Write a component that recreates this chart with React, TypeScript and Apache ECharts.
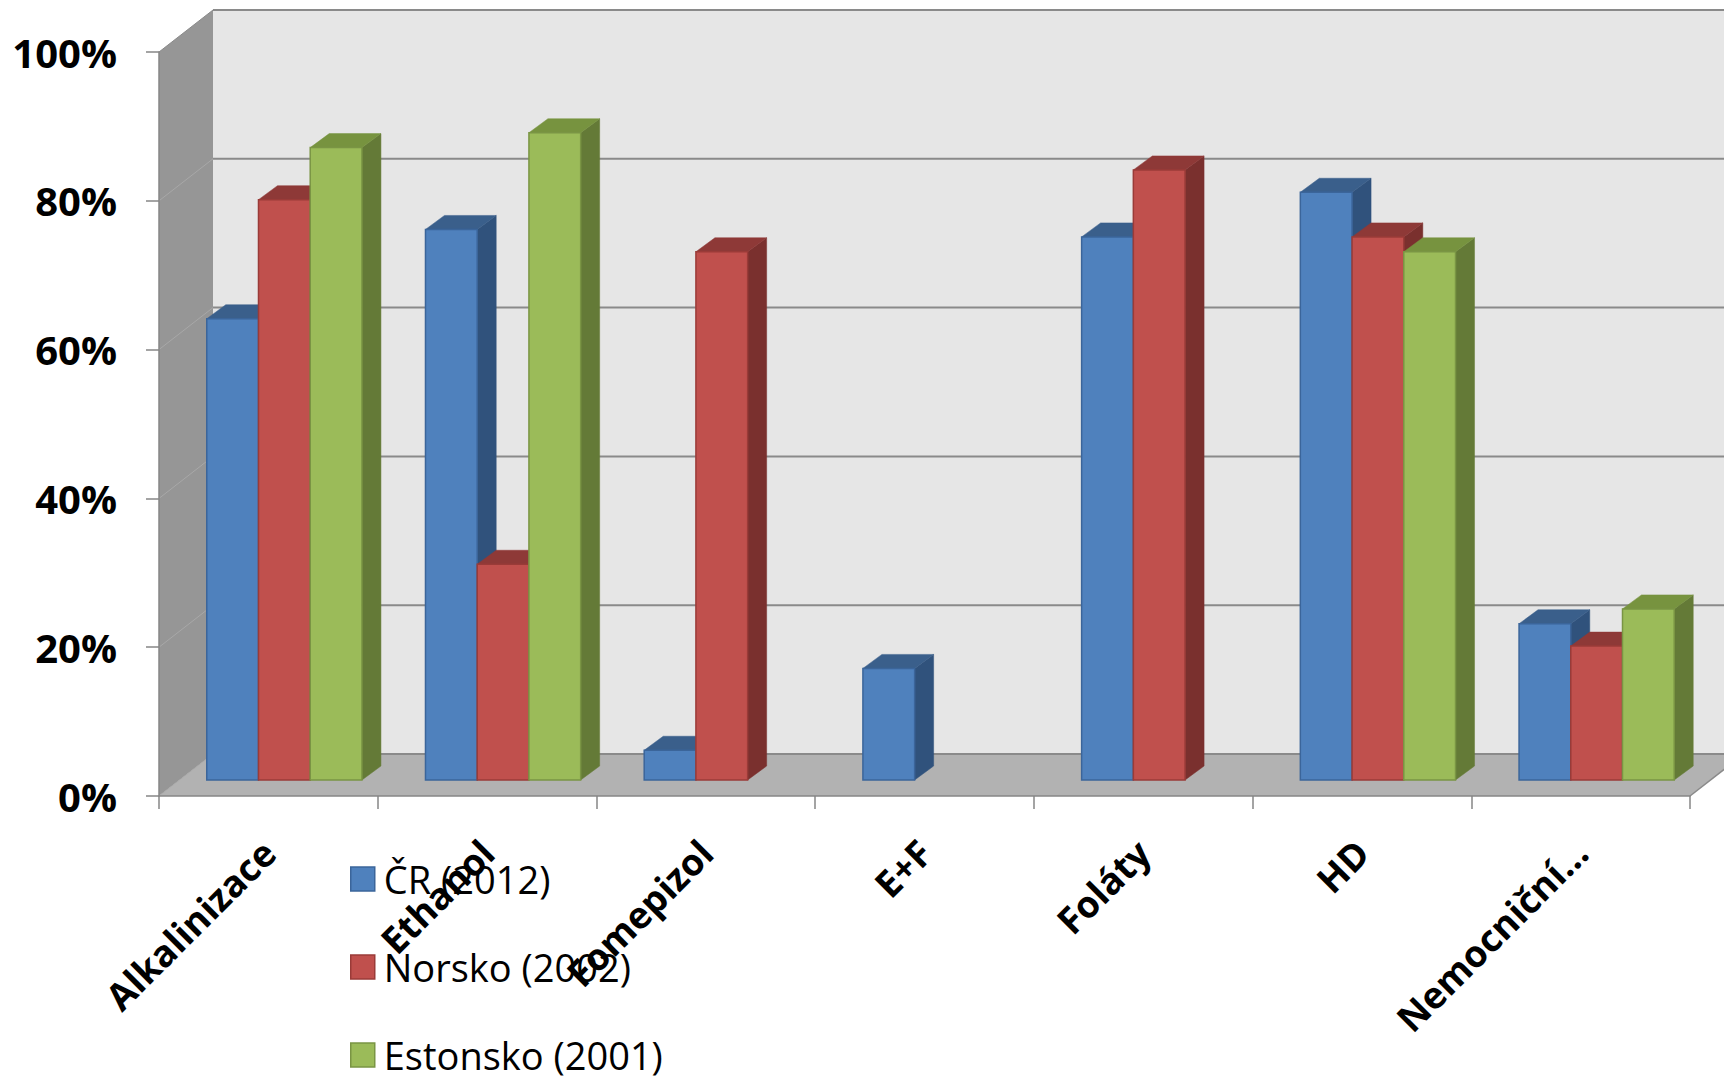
import React, { useEffect, useRef } from "react";
import * as echarts from "echarts";

// ---- data ----
const categories = ["Alkalinizace", "Ethanol", "Fomepizol", "E+F", "Foláty", "HD", "Nemocniční…"];
const seriesNames = ["ČR (2012)", "Norsko (2002)", "Estonsko (2001)"];
const crValues: (number | null)[] = [62, 74, 4, 15, 73, 79, 21];
const norskoValues: (number | null)[] = [78, 29, 71, null, 82, 73, 18];
const estonskoValues: (number | null)[] = [85, 87, null, null, null, 71, 23];
const yTicks = [0, 20, 40, 60, 80, 100];

// ---- styling ----
const palette = [
  { front: "#4f81bd", top: "#3a5f8b", side: "#30527c", border: "#3b659a" },
  { front: "#c0504d", top: "#8e3937", side: "#7a302e", border: "#9a3b38" },
  { front: "#9bbb59", top: "#77933f", side: "#647a37", border: "#7a9544" },
];
const WALL_DX = 54;
const WALL_DY = -42;
const BAR_DX0 = 16;
const BAR_DY0 = -16;
const BAR_DDX = 19;
const BAR_DDY = -14;
const BAR_FRAC = 0.2365;
const FONT = "'Open Sans', 'Noto Sans', sans-serif";

const allValues = [crValues, norskoValues, estonskoValues];

function makeBarRender(s: number) {
  return (params: any, api: any) => {
    const ci = api.value(0);
    const v = api.value(1);
    const base = api.coord([ci, 0]);
    const topPt = api.coord([ci, v]);
    const band = api.size([1, 0])[0];
    const w = band * BAR_FRAC;
    const x0 = base[0] + BAR_DX0 - 1.5 * w + s * w;
    const x1 = x0 + w;
    const yb = base[1] + BAR_DY0;
    const yt = topPt[1] + BAR_DY0;
    const c = palette[s];
    return {
      type: "group",
      children: [
        {
          type: "polygon",
          shape: { points: [[x1, yt], [x1 + BAR_DDX, yt + BAR_DDY], [x1 + BAR_DDX, yb + BAR_DDY], [x1, yb]] },
          style: { fill: c.side, stroke: c.side, lineWidth: 0.5 },
        },
        {
          type: "polygon",
          shape: { points: [[x0, yt], [x1, yt], [x1 + BAR_DDX, yt + BAR_DDY], [x0 + BAR_DDX, yt + BAR_DDY]] },
          style: { fill: c.top, stroke: c.top, lineWidth: 0.5 },
        },
        {
          type: "rect",
          shape: { x: x0, y: yt, width: w, height: yb - yt },
          style: { fill: c.front, stroke: c.border, lineWidth: 1.5 },
        },
      ],
    };
  };
}

function renderWalls(params: any, api: any) {
  const cs = params.coordSys;
  const xl = cs.x;
  const xr = cs.x + cs.width;
  const y0 = api.coord([0, 0])[1];
  const y100 = api.coord([0, 100])[1];
  const children: any[] = [
    {
      type: "rect",
      shape: { x: xl + WALL_DX, y: y100 + WALL_DY, width: cs.width + 40, height: y0 - y100 },
      style: { fill: "#e6e6e6" },
    },
    {
      type: "polygon",
      shape: { points: [[xl, y0], [xl, y100], [xl + WALL_DX, y100 + WALL_DY], [xl + WALL_DX, y0 + WALL_DY]] },
      style: { fill: "#969696" },
    },
    {
      type: "polygon",
      shape: { points: [[xl, y0], [xr, y0], [xr + WALL_DX, y0 + WALL_DY], [xl + WALL_DX, y0 + WALL_DY]] },
      style: { fill: "#b2b2b2" },
    },
  ];
  yTicks.forEach((t) => {
    const y = api.coord([0, t])[1];
    children.push({
      type: "line",
      shape: { x1: xl + WALL_DX, y1: y + WALL_DY, x2: xr + WALL_DX + 40, y2: y + WALL_DY },
      style: { stroke: "#8a8a8a", lineWidth: 2 },
    });
    children.push({
      type: "line",
      shape: { x1: xl, y1: y, x2: xl + WALL_DX, y2: y + WALL_DY },
      style: { stroke: t === 100 ? "#8a8a8a" : "#a8a8a8", lineWidth: 1 },
    });
  });
  children.push({
    type: "line",
    shape: { x1: xr, y1: y0, x2: xr + WALL_DX, y2: y0 + WALL_DY },
    style: { stroke: "#8a8a8a", lineWidth: 1.5 },
  });
  return { type: "group", children };
}

export default function App() {
  const ref = useRef<HTMLDivElement>(null);
  useEffect(() => {
    document.body.style.margin = "0";
    if (!ref.current) return;
    const chart = echarts.init(ref.current, undefined, { renderer: "svg" });
    const barSeries = seriesNames.map((name, s) => ({
      type: "custom",
      name,
      z: 2,
      renderItem: makeBarRender(s),
      itemStyle: { color: palette[s].front, borderColor: palette[s].border },
      encode: { x: 0, y: 1 },
      data: allValues[s]
        .map((v, i) => (v == null ? null : [i, v]))
        .filter((d) => d !== null),
    }));
    chart.setOption({
      animation: false,
      backgroundColor: "#ffffff",
      grid: { left: 159, right: 34, top: 52, bottom: 284, containLabel: false },
      legend: {
        orient: "vertical",
        left: 350,
        top: 860,
        padding: 0,
        height: 216,
        itemWidth: 24,
        itemHeight: 24,
        itemGap: 50,
        icon: "rect",
        textStyle: { fontFamily: FONT, fontSize: 38, color: "#000", lineHeight: 38, padding: [0, 0, 0, 4] },
        data: seriesNames.map((n, s) => ({
          name: n,
          itemStyle: { color: palette[s].front, borderColor: palette[s].border, borderWidth: 1.5 },
        })),
      },
      xAxis: {
        type: "category",
        data: categories,
        z: 5,
        axisLine: { show: true, lineStyle: { color: "#868686", width: 1.5 } },
        axisTick: { show: true, length: 13, lineStyle: { color: "#868686", width: 1.5 } },
        axisLabel: {
          interval: 0,
          rotate: 45,
          margin: 50,
          fontFamily: FONT,
          fontWeight: "bold",
          fontSize: 37,
          color: "#000",
        },
        splitLine: { show: false },
      },
      yAxis: {
        type: "value",
        min: 0,
        max: 100,
        interval: 20,
        z: 5,
        axisLine: { show: true, lineStyle: { color: "#868686", width: 1.5 } },
        axisTick: { show: true, length: 13, lineStyle: { color: "#868686", width: 1.5 } },
        axisLabel: {
          formatter: "{value}%",
          margin: 42,
          fontFamily: FONT,
          fontWeight: "bold",
          fontSize: 40,
          color: "#000",
        },
        splitLine: { show: false },
      },
      series: [
        {
          type: "custom",
          name: "walls",
          silent: true,
          z: 1,
          renderItem: renderWalls,
          data: [[0, 0]],
        },
        ...barSeries,
      ],
    });
    return () => chart.dispose();
  }, []);
  return <div ref={ref} style={{ width: 1724, height: 1080 }} />;
}
